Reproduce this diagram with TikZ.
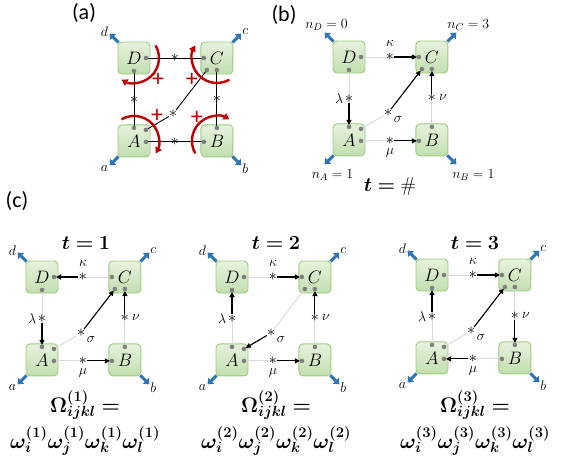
\RequirePackage{fix-cm}
\documentclass[tikz,border=0pt]{standalone}
\usepackage{fontspec}
\usepackage{bm}
\usetikzlibrary{arrows.meta,positioning}
\newfontfamily\panelfont{Carlito}
\definecolor{celltop}{HTML}{E6F2DE}
\definecolor{cellbot}{HTML}{C2DEAE}
\definecolor{cellline}{HTML}{9CCB7C}
\definecolor{legblue}{HTML}{2E75B6}
\definecolor{twistred}{HTML}{C00000}
\definecolor{dotgray}{HTML}{7F7F7F}
\definecolor{bondgray}{HTML}{DADADA}

\tikzset{
  cell/.style={draw=cellline, line width=0.9pt, rounded corners=4pt, top color=celltop, bottom color=cellbot,
    minimum size=32pt, inner sep=0pt, font=\fontsize{18}{18}\selectfont},
  astnode/.style={inner sep=0pt, font=\fontsize{16}{16}\selectfont},
  graybond/.style={draw=bondgray, line width=1pt},
  blackbond/.style={draw=black, line width=0.9pt},
  flow/.style={-{Triangle[length=5pt,width=5pt]}, line width=1.1pt, shorten >=2pt},
  leg/.style={-{Triangle[length=5pt,width=8pt]}, legblue, line width=3pt},
  twist/.style={-{Triangle[length=6pt,width=7pt]}, twistred, line width=2.4pt},
  plusmark/.style={twistred, inner sep=0pt, font=\panelfont\fontsize{24}{24}\selectfont},
  bondlabel/.style={inner sep=0pt, font=\fontsize{14}{14}\selectfont},
  cornertag/.style={inner sep=0pt, font=\fontsize{14}{14}\selectfont},
  tally/.style={inner sep=0pt, font=\fontsize{14}{14}\selectfont},
  heading/.style={inner sep=0pt, font=\fontsize{20}{20}\selectfont},
  omega/.style={inner sep=0pt, font=\fontsize{21}{21}\selectfont},
  paneltag/.style={inner sep=0pt, font=\panelfont\fontsize{22}{22}\selectfont}
}

% four cells, their dots, bonds, stars and legs
\newcommand{\plaquette}[3]{%
  \node[cell] (#1D) at #2 {$D$};
  \node[cell, right=50pt of #1D] (#1C) {$C$};
  \node[cell, below=50pt of #1D] (#1A) {$A$};
  \node[cell, below=50pt of #1C] (#1B) {$B$};
  \coordinate (#1Dr) at ([shift={(12,0)}]#1D.center);
  \coordinate (#1Db) at ([shift={(0,-13)}]#1D.center);
  \coordinate (#1Cl) at ([shift={(-13,0)}]#1C.center);
  \coordinate (#1Cbl) at ([shift={(-10,-12)}]#1C.center);
  \coordinate (#1Cbr) at ([shift={(0,-12)}]#1C.center);
  \coordinate (#1At) at ([shift={(0,13)}]#1A.center);
  \coordinate (#1Aur) at ([shift={(12,11)}]#1A.center);
  \coordinate (#1Ar) at ([shift={(12,-1)}]#1A.center);
  \coordinate (#1Bl) at ([shift={(-13,-1)}]#1B.center);
  \coordinate (#1Bt) at ([shift={(0,13)}]#1B.center);
  \draw[#3] (#1Dr) -- node[astnode] (#1kappa) {$*$} (#1Cl);
  \draw[#3] (#1Db) -- node[astnode] (#1lambda) {$*$} (#1At);
  \draw[#3] (#1Ar) -- node[astnode] (#1mu) {$*$} (#1Bl);
  \draw[#3] (#1Bt) -- node[astnode] (#1nu) {$*$} (#1Cbr);
  \node[astnode] (#1sigma) at ([shift={(39,-56)}]#1D.center) {$*$};
  \draw[#3] (#1Aur) -- (#1sigma) -- (#1Cbl);
  \draw[leg] ([shift={(1,-1)}]#1D.north west) -- ++(-9,9) coordinate (#1d);
  \draw[leg] ([shift={(-1,-1)}]#1C.north east) -- ++(9,9) coordinate (#1c);
  \draw[leg] ([shift={(1,1)}]#1A.south west) -- ++(-9,-9) coordinate (#1a);
  \draw[leg] ([shift={(-1,1)}]#1B.south east) -- ++(9,-9) coordinate (#1b);
  \foreach \p in {Dr,Db,Cl,Cbl,Cbr,At,Aur,Ar,Bl,Bt} \fill[dotgray] (#1\p) circle (2.3pt);
}
\newcommand{\bondlabels}[1]{%
  \node[bondlabel] (#1kl) at ([shift={(0,14)}]#1kappa) {$\kappa$};
  \node[bondlabel] (#1ll) at ([shift={(-10,0)}]#1lambda) {$\lambda$};
  \node[bondlabel] (#1sl) at ([shift={(10,-6)}]#1sigma) {$\sigma$};
  \node[bondlabel] (#1nl) at ([shift={(11,0)}]#1nu) {$\nu$};
  \node[bondlabel] (#1ml) at ([shift={(0,-12)}]#1mu) {$\mu$};
}
\newcommand{\cornertags}[1]{%
  \node[cornertag] (#1dl) at ([shift={(-5,2)}]#1d) {$d$};
  \node[cornertag] (#1cl) at ([shift={(4,2)}]#1c) {$c$};
  \node[cornertag] (#1al) at ([shift={(-5,-3)}]#1a) {$a$};
  \node[cornertag] (#1bl) at ([shift={(4,-3)}]#1b) {$b$};
}

\begin{document}
\begin{tikzpicture}[x=1pt, y=1pt]
\useasboundingbox (0,0) rectangle (562,-464);

% (a)
\node[paneltag] (pa) at (84,-13) {(a)};
\plaquette{a}{(134,-58)}{blackbond}
\cornertags{a}
\foreach \cl/\sa/\ea in {D/30/-120, C/-60/-210, A/120/-30, B/210/60}
  \draw[twist] ([shift={(\sa:25pt)}]a\cl.center) arc[start angle=\sa, end angle=\ea, radius=25pt];
\node[plusmark] (aDp) at ([shift={(24,-22)}]aD.center) {+};
\node[plusmark] (aCp) at ([shift={(-25,-22)}]aC.center) {+};
\node[plusmark] (aAp) at ([shift={(23,25)}]aA.center) {+};
\node[plusmark] (aBp) at ([shift={(-20,23)}]aB.center) {+};

% (b)
\node[paneltag] (pb) at (284,-15) {(b)};
\plaquette{b}{(349,-57)}{graybond}
\bondlabels{b}
\draw[flow] (bkappa) -- (bCl);
\draw[flow] (blambda) -- (bAt);
\draw[flow] (bsigma) -- (bCbl);
\draw[flow] (bnu) -- (bCbr);
\draw[flow] (bmu) -- (bBl);
\node[tally] (nD) at ([shift={(2,8)}]bd) {$n_D=0$};
\node[tally] (nC) at ([shift={(12,8)}]bc) {$n_C=3$};
\node[tally] (nA) at ([shift={(8,-11)}]ba) {$n_A=1$};
\node[tally] (nB) at ([shift={(17,-11)}]bb) {$n_B=1$};
\node[heading] (tb) at (390,-187) {$\bm{t=\#}$};

% (c)
\node[paneltag] (pc) at (17,-201) {(c)};
\plaquette{u}{(42,-277)}{graybond}
\bondlabels{u} \cornertags{u}
\draw[flow] (ukappa) -- (uDr);
\draw[flow] (ulambda) -- (uAt);
\draw[flow] (usigma) -- (uCbl);
\draw[flow] (unu) -- (uCbr);
\draw[flow] (umu) -- (uBl);
\node[heading] (tu) at (86,-243) {$\bm{t=1}$};
\node[omega] (Ou) at (85,-405) {$\bm{\Omega^{(1)}_{ijkl}=}$};
\node[omega] (wu) at (85,-441) {$\bm{\omega^{(1)}_i\omega^{(1)}_j\omega^{(1)}_k\omega^{(1)}_l}$};

\plaquette{v}{(232,-277)}{graybond}
\bondlabels{v} \cornertags{v}
\draw[flow] (vkappa) -- (vCl);
\draw[flow] (vlambda) -- (vDb);
\draw[flow] (vsigma) -- (vAur);
\draw[flow] (vnu) -- (vCbr);
\draw[flow] (vmu) -- (vBl);
\node[heading] (tv) at (276,-243) {$\bm{t=2}$};
\node[omega] (Ov) at (276,-405) {$\bm{\Omega^{(2)}_{ijkl}=}$};
\node[omega] (wv) at (276,-441) {$\bm{\omega^{(2)}_i\omega^{(2)}_j\omega^{(2)}_k\omega^{(2)}_l}$};

\plaquette{w}{(432,-275)}{graybond}
\bondlabels{w} \cornertags{w}
\draw[flow] (wkappa) -- (wCl);
\draw[flow] (wlambda) -- (wDb);
\draw[flow] (wsigma) -- (wCbl);
\draw[flow] (wnu) -- (wBt);
\draw[flow] (wmu) -- (wAr);
\node[heading] (tw) at (475,-243) {$\bm{t=3}$};
\node[omega] (Ow) at (475,-405) {$\bm{\Omega^{(3)}_{ijkl}=}$};
\node[omega] (ww) at (475,-441) {$\bm{\omega^{(3)}_i\omega^{(3)}_j\omega^{(3)}_k\omega^{(3)}_l}$};
\end{tikzpicture}
\end{document}
